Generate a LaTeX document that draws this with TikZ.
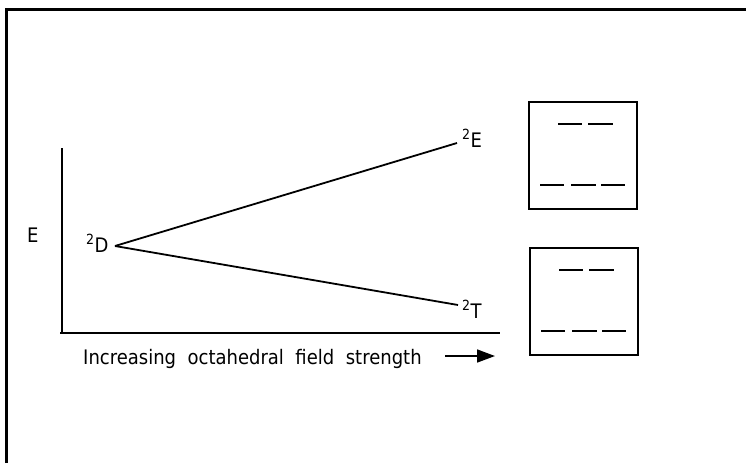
\documentclass[tikz,border=0pt]{standalone}
\usepackage{fontspec}
\setmainfont[FakeStretch=0.9]{DejaVu Sans}
\usetikzlibrary{arrows.meta}
\begin{document}
\begin{tikzpicture}[x=1pt,y=-1pt,
  frameline/.style={line width=3pt},
  axisline/.style={line width=1.7pt},
  splitline/.style={line width=1.8pt},
  levelline/.style={line width=1.8pt},
  levelbox/.style={draw, line width=2pt, minimum width=108pt, minimum height=107pt, inner sep=0pt, anchor=north west},
  lbl/.style={inner sep=0pt, font=\fontsize{20}{22}\selectfont}]
\useasboundingbox (0,0) rectangle (746,463);
% frame
\draw[frameline] (6,463) -- (6,9) -- (746,9);
% axes
\coordinate (ytop) at (62,148);
\coordinate (origin) at (62,333);
\coordinate (xstart) at (60,333);
\coordinate (xend) at (500,333);
\draw[axisline] (ytop) -- (origin);
\draw[axisline] (xstart) -- (xend);
% labels
\node[lbl, anchor=base west] (Elab) at (27,242) {E};
\node[lbl, anchor=base west] (Dlab) at (86,252) {\textsuperscript{2}D};
\node[lbl, anchor=base west] (ElabR) at (462,147) {\textsuperscript{2}E};
\node[lbl, anchor=base west] (Tlab) at (462,318) {\textsuperscript{2}T};
% splitting lines
\coordinate (d) at (115,246);
\coordinate (e) at (457,143);
\coordinate (t) at (458,305);
\draw[splitline] (d) -- (e);
\draw[splitline] (d) -- (t);
% x-axis caption and arrow
\node[lbl, anchor=base west] (cap) at (83,364) {Increasing\hspace{11.5pt}octahedral\hspace{11.5pt}field\hspace{11.5pt}strength};
\coordinate (a1) at (445,356);
\coordinate (a2) at (495,356);
\draw[line width=1.6pt, -{Triangle[length=18pt,width=13pt]}] (a1) -- (a2);
% boxes
\node[levelbox] (box1) at (528,101) {};
\node[levelbox] (box2) at (529,247) {};
\foreach \b in {box1,box2}{
  \draw[levelline] ([shift={(30,23)}]\b.north west) -- ++(24,0);
  \draw[levelline] ([shift={(60,23)}]\b.north west) -- ++(25,0);
  \draw[levelline] ([shift={(12,84)}]\b.north west) -- ++(24,0);
  \draw[levelline] ([shift={(43,84)}]\b.north west) -- ++(25,0);
  \draw[levelline] ([shift={(73,84)}]\b.north west) -- ++(24,0);
}
\end{tikzpicture}
\end{document}
